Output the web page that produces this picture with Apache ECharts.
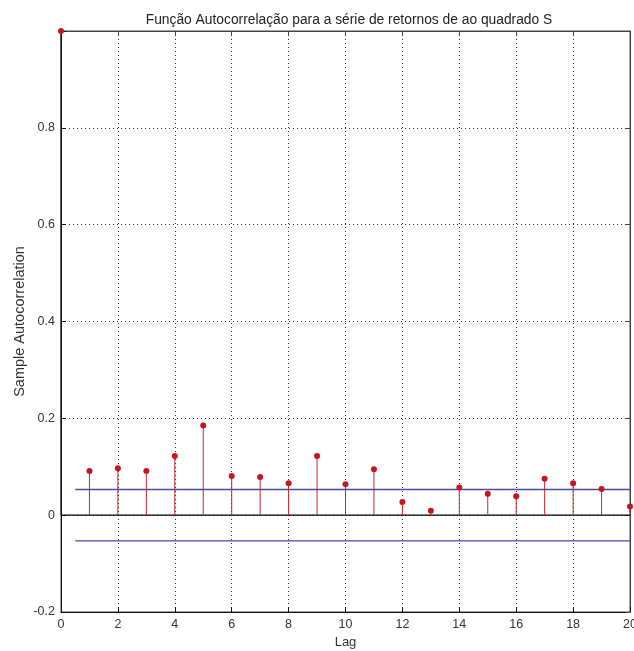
<!DOCTYPE html>
<html>
<head>
<meta charset="utf-8">
<script src="https://cdn.jsdelivr.net/npm/echarts@6/dist/echarts.min.js"></script>
<style>
html,body{margin:0;padding:0;background:#fff;}
#chart{width:634px;height:651px;}
</style>
</head>
<body>
<div id="chart"></div>
<script>
// ---- data ----
const lags = [0,1,2,3,4,5,6,7,8,9,10,11,12,13,14,15,16,17,18,19,20];
const acfValues = [1.0,0.091,0.097,0.091,0.122,0.185,0.081,0.079,0.066,0.122,0.064,0.095,0.027,0.009,0.057,0.044,0.039,0.075,0.066,0.054,0.018];
const boundLags = [0.5, 20];
const boundValue = 0.053;
const xTicks = [0,2,4,6,8,10,12,14,16,18,20];
const yTicks = [-0.2,0,0.2,0.4,0.6,0.8];
const titleText = 'Função Autocorrelação para a série de retornos de ao quadrado S';
const xName = 'Lag';
const yName = 'Sample Autocorrelation';

const stemData = lags.map((l,i)=>[l, acfValues[i]]);
const upperData = boundLags.map(l=>[l, boundValue]);
const lowerData = boundLags.map(l=>[l, -boundValue]);
const zeroData = [[xTicks[0],0],[xTicks[xTicks.length-1],0]];

const FONT = '"Liberation Sans", Arial, sans-serif';
const chart = echarts.init(document.getElementById('chart'), null, {renderer:'canvas'});

function fmtY(v){
  const r = Math.round(v*10)/10;
  if (!yTicks.some(t=>Math.abs(t-r)<1e-9)) return '';
  if (Math.abs(r)<1e-9) return '0';
  return String(r);
}

const option = {
  animation:false,
  backgroundColor:'#fff',
  title:{
    text:titleText, left:344, top:8, textAlign:'center',
    textStyle:{fontFamily:FONT, fontSize:13.8, fontWeight:'normal', color:'#222'}
  },
  grid:{left:61, right:4, top:31, bottom:39, containLabel:false, outerBoundsMode:'none',
        show:true, borderColor:'#444', borderWidth:1, backgroundColor:'transparent'},
  xAxis:[{
    type:'value', min:0, max:20, interval:2,
    name:xName, nameLocation:'middle', nameGap:24,
    nameTextStyle:{fontFamily:FONT, fontSize:13, color:'#333'},
    axisLine:{show:true, onZero:false, lineStyle:{color:'#111', width:1}},
    axisTick:{show:true, inside:true, length:5, lineStyle:{color:'#111'}},
    axisLabel:{fontFamily:FONT, fontSize:12.5, color:'#333', margin:6},
    splitLine:{show:true, lineStyle:{type:[1,3], color:'#333', width:1}}
  },{
    type:'value', min:0, max:20, interval:2, position:'top',
    axisLine:{show:true, onZero:false, lineStyle:{color:'#444', width:1}},
    axisTick:{show:true, inside:true, length:5, lineStyle:{color:'#444'}},
    axisLabel:{show:false}, splitLine:{show:false}
  }],
  yAxis:[{
    type:'value', min:-0.2, max:1.0, interval:0.2,
    name:yName, nameLocation:'middle', nameGap:34, nameRotate:90, nameMoveOverlap:false,
    nameTextStyle:{fontFamily:FONT, fontSize:14.5, color:'#333'},
    axisLine:{show:true, onZero:false, lineStyle:{color:'#111', width:1}},
    axisTick:{show:true, inside:true, length:5, lineStyle:{color:'#111'}},
    axisLabel:{fontFamily:FONT, fontSize:12.5, color:'#333', margin:6, formatter:fmtY},
    splitLine:{show:true, lineStyle:{type:[1,3], color:'#333', width:1}}
  },{
    type:'value', min:-0.2, max:1.0, interval:0.2, position:'right',
    axisLine:{show:true, onZero:false, lineStyle:{color:'#444', width:1}},
    axisTick:{show:true, inside:true, length:5, lineStyle:{color:'#444'}},
    axisLabel:{show:false}, splitLine:{show:false}
  }],
  series:[
    {
      type:'line', xAxisIndex:1, yAxisIndex:1, data:[], symbol:'none', silent:true
    },
    {
      type:'line', data:zeroData, symbol:'none', silent:true,
      lineStyle:{color:'#000', width:1.3}, z:3
    },
    {
      type:'line', data:upperData, symbol:'none', silent:true,
      lineStyle:{color:'#4848a8', width:1.3}, z:4
    },
    {
      type:'line', data:lowerData, symbol:'none', silent:true,
      lineStyle:{color:'#4848a8', width:1.3}, z:4
    },
    {
      type:'custom', data:stemData, z:5, clip:false,
      renderItem:function(params, api){
        const x = api.value(0), y = api.value(1);
        const p0 = api.coord([x,0]);
        const p1 = api.coord([x,y]);
        return {type:'group', children:[
          {type:'line', shape:{x1:p0[0], y1:p0[1], x2:p1[0], y2:p1[1]},
           style:{stroke: x===0 ? '#111' : '#c0282e', lineWidth:1}},
          {type:'circle', shape:{cx:p1[0], cy:p1[1], r:3},
           style:{fill:'#c8141e', stroke:null}}
        ]};
      }
    }
  ]
};
chart.setOption(option);
</script>
</body>
</html>
